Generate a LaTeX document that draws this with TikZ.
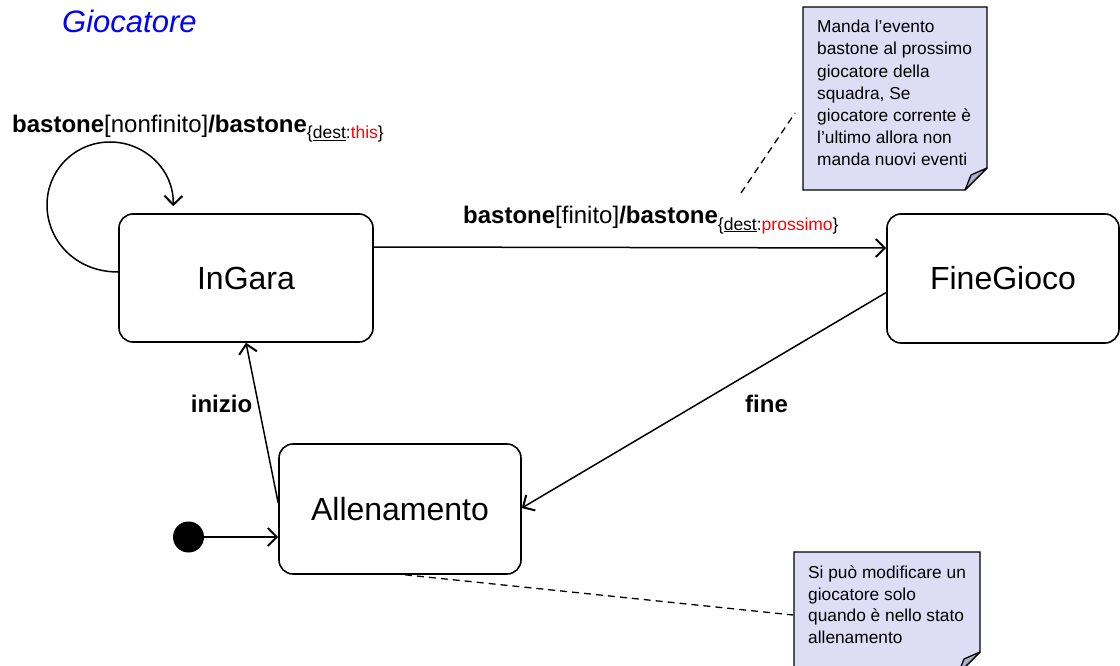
\documentclass[tikz,border=0pt]{standalone}
\usepackage{fontspec}
\setmainfont{Liberation Sans}
\usetikzlibrary{arrows.meta,calc}
\definecolor{notefill}{RGB}{221,221,245}
\definecolor{flapfill}{RGB}{175,175,205}
\definecolor{titleblue}{RGB}{0,0,255}
\definecolor{subred}{RGB}{255,0,0}
\begin{document}
\begin{tikzpicture}[x=1pt,y=-1pt,
  state/.style={draw,line width=1.6pt,rounded corners=14pt,font=\fontsize{32}{38}\selectfont,inner sep=0pt},
  trans/.style={line width=1.5pt,-{Straight Barb[length=9pt,width=18pt,line width=2pt]}},
  lbl/.style={font=\fontsize{24}{28}\selectfont,inner sep=0pt},
  subl/.style={font=\fontsize{17.5}{20}\selectfont},
  notetext/.style={align=left,anchor=north west,inner sep=0pt},
  notebox/.style={draw,fill=notefill,line width=1.3pt},
  flap/.style={draw,fill=flapfill,line width=1.3pt,line join=round},
  notedash/.style={dash pattern=on 7pt off 5pt,line width=1.3pt}]
\clip (0,0) rectangle (1120,666);

% title
\node[anchor=base west,inner sep=0pt,text=titleblue,font=\fontsize{31}{36}\selectfont\itshape] (title) at (62,33) {Giocatore};

% states
\node[state,minimum width=254pt,minimum height=128pt] (ingara) at (246,278) {InGara};
\node[state,minimum width=232pt,minimum height=129pt] (fine) at (1003,278.5) {FineGioco};
\node[state,minimum width=242pt,minimum height=130pt] (allen) at (400,509) {Allenamento};
\node[circle,fill=black,minimum size=31pt,inner sep=0pt] (init) at (188.5,537) {};

% transitions
\draw[trans] (init.east) -- (init.east -| allen.west);
\draw[trans] ($(allen.west)+(0,-6)$) -- (ingara.south);
\draw[trans] ($(ingara.east)+(0,-31)$) -- ($(fine.west)+(0,-30.5)$);
\draw[trans] ($(fine.west)+(0,14)$) -- ($(allen.east)+(0,-1)$);
\draw[trans] ($(ingara.west)+(0,-6)$) .. controls (75,272) and (47,240) .. (47,205)
  .. controls (47,170) and (75,142) .. (110,142)
  .. controls (145,142) and (174,170) .. ($(ingara.north west)+(55,-7)$);

% labels
\node[lbl,anchor=base west] (l1) at (12,133) {\textbf{bastone}[nonfinito]\textbf{/bastone}\raisebox{-6pt}{\fontsize{17.5}{20}\selectfont\{\underline{dest}:\textcolor{subred}{this}\}}};
\node[lbl,anchor=base west] (l2) at (463,223) {\textbf{bastone}[finito]\textbf{/bastone}\raisebox{-7pt}{\fontsize{17.5}{20}\selectfont\{\underline{dest}:\textcolor{subred}{prossimo}\}}};
\node[lbl,anchor=base,font=\fontsize{24}{28}\selectfont\bfseries] (l3) at (221.5,412) {inizio};
\node[lbl,anchor=base,font=\fontsize{24}{28}\selectfont\bfseries] (l4) at (766.5,412) {fine};

% note 1
\path[notebox] (803,7) -- (987,7) -- (987,168) -- (965,190) -- (803,190) -- cycle;
\path[flap] (987,168) -- (971,175) -- (965,190) -- cycle;
\node[notetext,font=\fontsize{17.3}{22.2}\selectfont] (n1) at (817,20) {Manda l’evento\\bastone al prossimo\\giocatore della\\squadra, Se\\giocatore corrente è\\l’ultimo allora non\\manda nuovi eventi};
\coordinate (d1a) at (741,193);
\coordinate (d1b) at (795,113);
\draw[notedash] (d1a) -- (d1b);

% note 2
\path[notebox] (794,552) -- (980,552) -- (980,652) -- (958,674) -- (794,674) -- cycle;
\path[flap] (980,652) -- (964,659) -- (958,674) -- cycle;
\node[notetext,font=\fontsize{17.3}{21.5}\selectfont] (n2) at (808,566) {Si può modificare un\\giocatore solo\\quando è nello stato\\allenamento};
\coordinate (d2) at (793,615);
\draw[notedash] ($(allen.south)+(5,0)$) -- (d2);
\end{tikzpicture}
\end{document}
